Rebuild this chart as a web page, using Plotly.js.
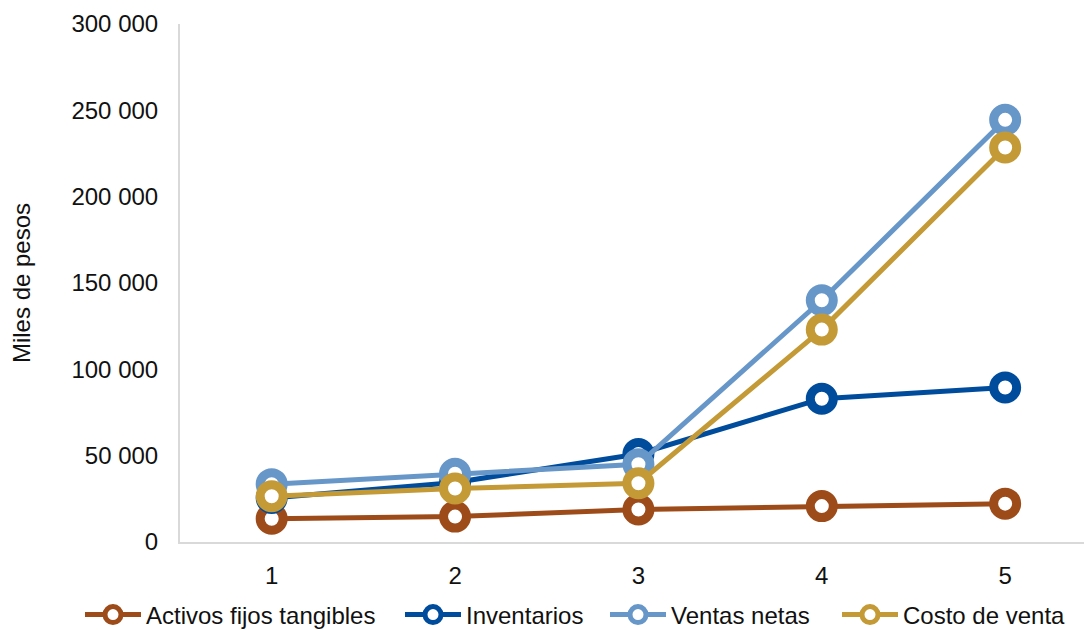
<!DOCTYPE html>
<html>
<head>
<meta charset="utf-8">
<script src="https://cdn.plot.ly/plotly-3.0.1.min.js"></script>
<style>
  html, body { margin: 0; padding: 0; background: #fff; }
  #chart { width: 1084px; height: 630px; }
</style>
</head>
<body>
<div id="chart"></div>
<script>
const categories = [1, 2, 3, 4, 5];
const seriesNames = ["Activos fijos tangibles", "Inventarios", "Ventas netas", "Costo de venta"];
const activos = [13500, 14700, 18800, 20800, 22200];
const inventarios = [25500, 34500, 51000, 83000, 89500];
const ventas = [33500, 39500, 45000, 140000, 244500];
const costo = [26500, 31000, 34000, 123000, 228500];
const yTickVals = [0, 50000, 100000, 150000, 200000, 250000, 300000];
const yTitle = "Miles de pesos";

const colors = ["#9E4B1A", "#004C9C", "#6797C8", "#C49A37"];
const allSeries = [activos, inventarios, ventas, costo];
const legendIds = ["legend", "legend2", "legend3", "legend4"];
const legendLeft = [80, 400, 605, 837];

const traces = allSeries.map((vals, i) => ({
  type: "scatter",
  mode: "lines+markers",
  name: seriesNames[i],
  legend: legendIds[i],
  x: categories,
  y: vals,
  line: { color: colors[i], width: 5 },
  marker: { symbol: "circle", size: 23, color: "#ffffff", line: { color: colors[i], width: 9 } },
  cliponaxis: false
}));

const font = { family: "Liberation Sans, Arial, sans-serif", size: 24, color: "#111" };

const layout = {
  width: 1084,
  height: 630,
  margin: { l: 180, r: 0, t: 24, b: 88 },
  paper_bgcolor: "#fff",
  plot_bgcolor: "#fff",
  font: font,
  separators: ", ",
  showlegend: true,
  xaxis: {
    range: [0.5, 5.43],
    tickvals: categories,
    ticktext: categories.map(String),
    showgrid: false,
    zeroline: false,
    showline: true,
    linecolor: "#D9D9D9",
    linewidth: 2,
    ticks: "",
    ticklabelstandoff: 11,
    tickfont: font,
    automargin: false
  },
  yaxis: {
    range: [0, 300000],
    tickvals: yTickVals,
    tickformat: ",d",
    showgrid: false,
    zeroline: false,
    showline: true,
    linecolor: "#D9D9D9",
    linewidth: 2,
    ticks: "",
    ticklabelstandoff: 15,
    tickfont: font,
    automargin: false,
    title: { text: yTitle, font: font, standoff: 34 }
  }
};

legendIds.forEach((id, i) => {
  layout[id] = {
    orientation: "h",
    xref: "container",
    yref: "container",
    x: legendLeft[i] / 1084,
    xanchor: "left",
    y: 1 - 615 / 630,
    yanchor: "middle",
    font: font,
    itemwidth: 56,
    bgcolor: "rgba(0,0,0,0)"
  };
});

Plotly.newPlot("chart", traces, layout, { staticPlot: true, displayModeBar: false });
</script>
</body>
</html>
